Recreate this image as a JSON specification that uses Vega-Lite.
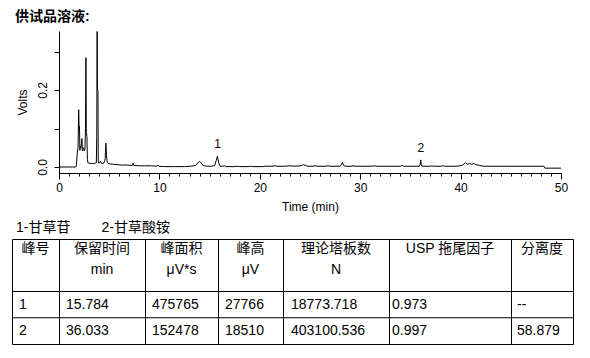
{
  "$schema": "https://vega.github.io/schema/vega-lite/v6.json",
  "background": "white",
  "padding": {"left": 11, "top": 9, "right": 5, "bottom": 5},
  "config": {
    "font": "Liberation Sans, Noto Sans CJK SC",
    "view": {"stroke": null},
    "text": {"font": "Liberation Sans, Noto Sans CJK SC", "color": "black"}
  },
  "title": {"text": "供试品溶液:", "anchor": "start", "fontSize": 14, "fontWeight": "bold", "offset": 6, "dx": 4, "color": "black", "font": "Liberation Sans, Noto Sans CJK SC"},
  "datasets": {
    "trace": [
      {"t":0,"v":0},{"t":1.68,"v":0},{"t":1.74,"v":0.006},{"t":1.8,"v":0.03},{"t":1.86,"v":0.045},{"t":1.9,"v":0.05},{"t":1.96,"v":0.149},{"t":2.0,"v":0.102},{"t":2.04,"v":0.106},{"t":2.08,"v":0.043},{"t":2.13,"v":0.054},{"t":2.18,"v":0.05},{"t":2.24,"v":0.06},{"t":2.28,"v":0.074},{"t":2.33,"v":0.042},{"t":2.39,"v":0.047},{"t":2.45,"v":0.05},{"t":2.51,"v":0.042},{"t":2.58,"v":0.045},{"t":2.64,"v":0.1},{"t":2.68,"v":0.284},{"t":2.72,"v":0.09},{"t":2.78,"v":0.08},{"t":2.83,"v":0.02},{"t":2.88,"v":0.011},{"t":3.0,"v":0.01},{"t":3.2,"v":0.009},{"t":3.4,"v":0.009},{"t":3.6,"v":0.01},{"t":3.72,"v":0.011},{"t":3.76,"v":0.08},{"t":3.8,"v":0.352},{"t":3.83,"v":0.2},{"t":3.88,"v":0.199},{"t":3.91,"v":0.015},{"t":3.96,"v":0.01},{"t":4.05,"v":0.011},{"t":4.12,"v":0.015},{"t":4.18,"v":0.011},{"t":4.3,"v":0.009},{"t":4.45,"v":0.01},{"t":4.55,"v":0.016},{"t":4.6,"v":0.022},{"t":4.67,"v":0.062},{"t":4.73,"v":0.03},{"t":4.8,"v":0.014},{"t":4.9,"v":0.009},{"t":5.1,"v":0.008},{"t":5.4,"v":0.007},{"t":5.8,"v":0.006},{"t":6.3,"v":0.005},{"t":6.8,"v":0.005},{"t":7.3,"v":0.004},{"t":7.38,"v":0.01},{"t":7.46,"v":0.004},{"t":8.0,"v":0.003},{"t":8.6,"v":0.003},{"t":9.2,"v":0.003},{"t":9.75,"v":0.002},{"t":9.85,"v":0.005},{"t":9.95,"v":0.002},{"t":10.5,"v":0.001},{"t":11.5,"v":0.001},{"t":12.5,"v":0.001},{"t":13.1,"v":0.002},{"t":13.6,"v":0.004},{"t":13.85,"v":0.011},{"t":14.0,"v":0.015},{"t":14.15,"v":0.011},{"t":14.35,"v":0.004},{"t":14.7,"v":0.002},{"t":15.2,"v":0.002},{"t":15.5,"v":0.004},{"t":15.65,"v":0.016},{"t":15.78,"v":0.0278},{"t":15.92,"v":0.01},{"t":16.05,"v":0.002},{"t":16.3,"v":0.002},{"t":16.5,"v":0.003},{"t":16.65,"v":0.001},{"t":17.5,"v":0.001},{"t":17.8,"v":0.002},{"t":18.0,"v":0.001},{"t":18.9,"v":0.001},{"t":19.1,"v":0.002},{"t":19.3,"v":0.001},{"t":20.3,"v":0.001},{"t":20.6,"v":0.002},{"t":21.2,"v":0.002},{"t":21.5,"v":0.003},{"t":21.7,"v":0.002},{"t":22.5,"v":0.002},{"t":23.0,"v":0.003},{"t":23.5,"v":0.002},{"t":24.0,"v":0.003},{"t":24.2,"v":0.004},{"t":24.3,"v":0.007},{"t":24.4,"v":0.004},{"t":24.55,"v":0.005},{"t":24.7,"v":0.002},{"t":25.3,"v":0.002},{"t":25.5,"v":0.003},{"t":25.7,"v":0.002},{"t":26.6,"v":0.002},{"t":26.8,"v":0.003},{"t":27.0,"v":0.002},{"t":28.0,"v":0.002},{"t":28.12,"v":0.006},{"t":28.22,"v":0.012},{"t":28.35,"v":0.004},{"t":28.5,"v":0.002},{"t":29.1,"v":0.002},{"t":29.3,"v":0.003},{"t":29.5,"v":0.002},{"t":31.2,"v":0.002},{"t":31.4,"v":0.003},{"t":31.6,"v":0.002},{"t":34.0,"v":0.002},{"t":34.15,"v":0.004},{"t":34.35,"v":0.002},{"t":35.9,"v":0.002},{"t":35.98,"v":0.008},{"t":36.03,"v":0.0185},{"t":36.08,"v":0.005},{"t":36.15,"v":0.002},{"t":37.0,"v":0.002},{"t":37.15,"v":0.003},{"t":37.3,"v":0.002},{"t":38.1,"v":0.002},{"t":38.25,"v":0.003},{"t":38.4,"v":0.002},{"t":39.5,"v":0.002},{"t":39.9,"v":0.003},{"t":40.2,"v":0.005},{"t":40.5,"v":0.011},{"t":40.7,"v":0.007},{"t":40.9,"v":0.009},{"t":41.1,"v":0.007},{"t":41.3,"v":0.009},{"t":41.5,"v":0.006},{"t":41.9,"v":0.004},{"t":42.3,"v":0.002},{"t":45.0,"v":0.002},{"t":48.3,"v":0.002},{"t":48.4,"v":-0.003},{"t":50.0,"v":-0.003}
    ],
    "peaks": [
      {"peak": "1", "t": 15.784, "h": 0.027766},
      {"peak": "2", "t": 36.033, "h": 0.01851}
    ],
    "table": [
      {"col": 1, "line": "a", "text": "峰号"},
      {"col": 1, "line": "r1", "text": "1"},
      {"col": 1, "line": "r2", "text": "2"},
      {"col": 2, "line": "a", "text": "保留时间"},
      {"col": 2, "line": "b", "text": "min"},
      {"col": 2, "line": "r1", "text": "15.784"},
      {"col": 2, "line": "r2", "text": "36.033"},
      {"col": 3, "line": "a", "text": "峰面积"},
      {"col": 3, "line": "b", "text": "μV*s"},
      {"col": 3, "line": "r1", "text": "475765"},
      {"col": 3, "line": "r2", "text": "152478"},
      {"col": 4, "line": "a", "text": "峰高"},
      {"col": 4, "line": "b", "text": "μV"},
      {"col": 4, "line": "r1", "text": "27766"},
      {"col": 4, "line": "r2", "text": "18510"},
      {"col": 5, "line": "a", "text": "理论塔板数"},
      {"col": 5, "line": "b", "text": "N"},
      {"col": 5, "line": "r1", "text": "18773.718"},
      {"col": 5, "line": "r2", "text": "403100.536"},
      {"col": 6, "line": "a", "text": "USP 拖尾因子"},
      {"col": 6, "line": "r1", "text": "0.973"},
      {"col": 6, "line": "r2", "text": "0.997"},
      {"col": 7, "line": "a", "text": "分离度"},
      {"col": 7, "line": "r1", "text": "--"},
      {"col": 7, "line": "r2", "text": "58.879"}
    ]
  },
  "spacing": 8,
  "vconcat": [
    {
      "spacing": 0,
      "hconcat": [
        {
          "width": 1, "height": 1,
          "data": {"values": []},
          "mark": {"type": "point", "opacity": 0},
          "encoding": {}
        },
        {
          "width": 502,
          "height": 142,
          "resolve": {"axis": {"x": "independent", "y": "independent"}},
          "layer": [
            {
              "data": {"name": "trace"},
              "mark": {"type": "line", "color": "black", "strokeWidth": 1},
              "encoding": {
                "x": {"field": "t", "type": "quantitative",
                  "scale": {"domain": [0, 50], "nice": false, "zero": false},
                  "axis": {"title": "Time (min)", "orient": "bottom", "values": [0, 10, 20, 30, 40, 50],
                    "tickSize": 6, "labelOverlap": false, "labelFlush": false, "labelBound": false,
                    "grid": false, "domainColor": "black", "tickColor": "black", "labelColor": "black", "titleColor": "black",
                    "labelFontSize": 12, "titleFontSize": 12, "titleFontWeight": "normal", "labelPadding": 3, "titlePadding": 8}},
                "y": {"field": "v", "type": "quantitative",
                  "scale": {"domain": [-0.0156, 0.3533], "nice": false, "zero": false},
                  "axis": {"title": "Volts", "orient": "left", "values": [0, 0.1, 0.2, 0.3],
                    "labelExpr": "datum.value === 0 ? '0.0' : (abs(datum.value - 0.2) < 0.000001 ? '0.2' : '')",
                    "labelAngle": 270, "tickSize": 5, "labelPadding": 5, "titlePadding": 7,
                    "labelOverlap": false, "labelFlush": false, "labelBound": false,
                    "grid": false, "domainColor": "black", "tickColor": "black", "labelColor": "black", "titleColor": "black",
                    "labelFontSize": 12, "titleFontSize": 12, "titleFontWeight": "normal"}}
              }
            },
            {
              "data": {"name": "peaks"},
              "mark": {"type": "text", "baseline": "bottom", "dy": -5, "fontSize": 12, "color": "black"},
              "encoding": {
                "x": {"field": "t", "type": "quantitative",
                  "axis": {"orient": "bottom", "title": null, "values": [0,1,2,3,4,5,6,7,8,9,10,11,12,13,14,15,16,17,18,19,20,21,22,23,24,25,26,27,28,29,30,31,32,33,34,35,36,37,38,39,40,41,42,43,44,45,46,47,48,49,50],
                    "labels": false, "domain": false, "grid": false, "tickSize": 3, "tickColor": "black"}},
                "y": {"field": "h", "type": "quantitative",
                  "axis": {"orient": "left", "title": "Volts", "titleOpacity": 0, "titlePadding": 33, "titleFontSize": 12,
                    "labels": false, "ticks": false, "domain": false, "grid": false}},
                "text": {"field": "peak"}
              }
            }
          ]
        }
      ]
    },
    {
      "title": {"text": "1-甘草苷\u00a0\u00a0\u00a0\u00a0\u00a0\u00a0\u00a0\u00a02-甘草酸铵", "anchor": "start", "fontSize": 14, "fontWeight": "normal", "offset": 4, "dx": 5, "color": "black", "font": "Liberation Sans, Noto Sans CJK SC"},
      "spacing": 0,
      "bounds": "flush",
      "data": {"name": "table"},
      "hconcat": [
        {
          "width": 47, "height": 105, "view": {"stroke": "black", "strokeWidth": 1},
          "transform": [{"filter": "datum.col === 1"}],
          "layer": [
            {"transform": [{"filter": "datum.line === 'r1' || datum.line === 'r2'"}], "mark": {"type": "rule", "color": "black", "strokeWidth": 1},
             "encoding": {"y": {"field": "line", "type": "nominal", "bandPosition": 0, "scale": {"type": "band", "domain": ["a","b","r1","r2"], "paddingInner": 0, "paddingOuter": 0}, "axis": null}}},
            {"transform": [{"filter": "datum.line === 'a'"}], "mark": {"type": "text", "fontSize": 14, "dy": -3},
             "encoding": {"y": {"field": "line", "type": "nominal", "bandPosition": 0.5, "axis": null}, "text": {"field": "text"}}},
            {"transform": [{"filter": "datum.line === 'r1' || datum.line === 'r2'"}], "mark": {"type": "text", "fontSize": 14, "align": "left", "dx": 7},
             "encoding": {"x": {"field": "col", "type": "nominal", "bandPosition": 0, "scale": {"type": "band", "paddingInner": 0, "paddingOuter": 0}, "axis": null},
               "y": {"field": "line", "type": "nominal", "bandPosition": 0.5, "axis": null}, "text": {"field": "text"}}}
          ]
        },
        {
          "width": 86, "height": 105, "view": {"stroke": "black", "strokeWidth": 1},
          "transform": [{"filter": "datum.col === 2"}],
          "layer": [
            {"transform": [{"filter": "datum.line === 'r1' || datum.line === 'r2'"}], "mark": {"type": "rule", "color": "black", "strokeWidth": 1},
             "encoding": {"y": {"field": "line", "type": "nominal", "bandPosition": 0, "scale": {"type": "band", "domain": ["a","b","r1","r2"], "paddingInner": 0, "paddingOuter": 0}, "axis": null}}},
            {"transform": [{"filter": "datum.line === 'a'"}], "mark": {"type": "text", "fontSize": 14, "dy": -3},
             "encoding": {"y": {"field": "line", "type": "nominal", "bandPosition": 0.5, "axis": null}, "text": {"field": "text"}}},
            {"transform": [{"filter": "datum.line === 'b'"}], "mark": {"type": "text", "fontSize": 14, "dy": -8},
             "encoding": {"y": {"field": "line", "type": "nominal", "bandPosition": 0.5, "axis": null}, "text": {"field": "text"}}},
            {"transform": [{"filter": "datum.line === 'r1' || datum.line === 'r2'"}], "mark": {"type": "text", "fontSize": 14, "align": "left", "dx": 7},
             "encoding": {"x": {"field": "col", "type": "nominal", "bandPosition": 0, "scale": {"type": "band", "paddingInner": 0, "paddingOuter": 0}, "axis": null},
               "y": {"field": "line", "type": "nominal", "bandPosition": 0.5, "axis": null}, "text": {"field": "text"}}}
          ]
        },
        {
          "width": 73, "height": 105, "view": {"stroke": "black", "strokeWidth": 1},
          "transform": [{"filter": "datum.col === 3"}],
          "layer": [
            {"transform": [{"filter": "datum.line === 'r1' || datum.line === 'r2'"}], "mark": {"type": "rule", "color": "black", "strokeWidth": 1},
             "encoding": {"y": {"field": "line", "type": "nominal", "bandPosition": 0, "scale": {"type": "band", "domain": ["a","b","r1","r2"], "paddingInner": 0, "paddingOuter": 0}, "axis": null}}},
            {"transform": [{"filter": "datum.line === 'a'"}], "mark": {"type": "text", "fontSize": 14, "dy": -3},
             "encoding": {"y": {"field": "line", "type": "nominal", "bandPosition": 0.5, "axis": null}, "text": {"field": "text"}}},
            {"transform": [{"filter": "datum.line === 'b'"}], "mark": {"type": "text", "fontSize": 14, "dy": -8},
             "encoding": {"y": {"field": "line", "type": "nominal", "bandPosition": 0.5, "axis": null}, "text": {"field": "text"}}},
            {"transform": [{"filter": "datum.line === 'r1' || datum.line === 'r2'"}], "mark": {"type": "text", "fontSize": 14, "align": "left", "dx": 7},
             "encoding": {"x": {"field": "col", "type": "nominal", "bandPosition": 0, "scale": {"type": "band", "paddingInner": 0, "paddingOuter": 0}, "axis": null},
               "y": {"field": "line", "type": "nominal", "bandPosition": 0.5, "axis": null}, "text": {"field": "text"}}}
          ]
        },
        {
          "width": 65, "height": 105, "view": {"stroke": "black", "strokeWidth": 1},
          "transform": [{"filter": "datum.col === 4"}],
          "layer": [
            {"transform": [{"filter": "datum.line === 'r1' || datum.line === 'r2'"}], "mark": {"type": "rule", "color": "black", "strokeWidth": 1},
             "encoding": {"y": {"field": "line", "type": "nominal", "bandPosition": 0, "scale": {"type": "band", "domain": ["a","b","r1","r2"], "paddingInner": 0, "paddingOuter": 0}, "axis": null}}},
            {"transform": [{"filter": "datum.line === 'a'"}], "mark": {"type": "text", "fontSize": 14, "dy": -3},
             "encoding": {"y": {"field": "line", "type": "nominal", "bandPosition": 0.5, "axis": null}, "text": {"field": "text"}}},
            {"transform": [{"filter": "datum.line === 'b'"}], "mark": {"type": "text", "fontSize": 14, "dy": -8},
             "encoding": {"y": {"field": "line", "type": "nominal", "bandPosition": 0.5, "axis": null}, "text": {"field": "text"}}},
            {"transform": [{"filter": "datum.line === 'r1' || datum.line === 'r2'"}], "mark": {"type": "text", "fontSize": 14, "align": "left", "dx": 7},
             "encoding": {"x": {"field": "col", "type": "nominal", "bandPosition": 0, "scale": {"type": "band", "paddingInner": 0, "paddingOuter": 0}, "axis": null},
               "y": {"field": "line", "type": "nominal", "bandPosition": 0.5, "axis": null}, "text": {"field": "text"}}}
          ]
        },
        {
          "width": 106, "height": 105, "view": {"stroke": "black", "strokeWidth": 1},
          "transform": [{"filter": "datum.col === 5"}],
          "layer": [
            {"transform": [{"filter": "datum.line === 'r1' || datum.line === 'r2'"}], "mark": {"type": "rule", "color": "black", "strokeWidth": 1},
             "encoding": {"y": {"field": "line", "type": "nominal", "bandPosition": 0, "scale": {"type": "band", "domain": ["a","b","r1","r2"], "paddingInner": 0, "paddingOuter": 0}, "axis": null}}},
            {"transform": [{"filter": "datum.line === 'a'"}], "mark": {"type": "text", "fontSize": 14, "dy": -3},
             "encoding": {"y": {"field": "line", "type": "nominal", "bandPosition": 0.5, "axis": null}, "text": {"field": "text"}}},
            {"transform": [{"filter": "datum.line === 'b'"}], "mark": {"type": "text", "fontSize": 14, "dy": -8},
             "encoding": {"y": {"field": "line", "type": "nominal", "bandPosition": 0.5, "axis": null}, "text": {"field": "text"}}},
            {"transform": [{"filter": "datum.line === 'r1' || datum.line === 'r2'"}], "mark": {"type": "text", "fontSize": 14, "align": "left", "dx": 8},
             "encoding": {"x": {"field": "col", "type": "nominal", "bandPosition": 0, "scale": {"type": "band", "paddingInner": 0, "paddingOuter": 0}, "axis": null},
               "y": {"field": "line", "type": "nominal", "bandPosition": 0.5, "axis": null}, "text": {"field": "text"}}}
          ]
        },
        {
          "width": 122, "height": 105, "view": {"stroke": "black", "strokeWidth": 1},
          "transform": [{"filter": "datum.col === 6"}],
          "layer": [
            {"transform": [{"filter": "datum.line === 'r1' || datum.line === 'r2'"}], "mark": {"type": "rule", "color": "black", "strokeWidth": 1},
             "encoding": {"y": {"field": "line", "type": "nominal", "bandPosition": 0, "scale": {"type": "band", "domain": ["a","b","r1","r2"], "paddingInner": 0, "paddingOuter": 0}, "axis": null}}},
            {"transform": [{"filter": "datum.line === 'a'"}], "mark": {"type": "text", "fontSize": 14, "dy": -3},
             "encoding": {"y": {"field": "line", "type": "nominal", "bandPosition": 0.5, "axis": null}, "text": {"field": "text"}}},
            {"transform": [{"filter": "datum.line === 'r1' || datum.line === 'r2'"}], "mark": {"type": "text", "fontSize": 14, "align": "left", "dx": 3},
             "encoding": {"x": {"field": "col", "type": "nominal", "bandPosition": 0, "scale": {"type": "band", "paddingInner": 0, "paddingOuter": 0}, "axis": null},
               "y": {"field": "line", "type": "nominal", "bandPosition": 0.5, "axis": null}, "text": {"field": "text"}}}
          ]
        },
        {
          "width": 62, "height": 105, "view": {"stroke": "black", "strokeWidth": 1},
          "transform": [{"filter": "datum.col === 7"}],
          "layer": [
            {"transform": [{"filter": "datum.line === 'r1' || datum.line === 'r2'"}], "mark": {"type": "rule", "color": "black", "strokeWidth": 1},
             "encoding": {"y": {"field": "line", "type": "nominal", "bandPosition": 0, "scale": {"type": "band", "domain": ["a","b","r1","r2"], "paddingInner": 0, "paddingOuter": 0}, "axis": null}}},
            {"transform": [{"filter": "datum.line === 'a'"}], "mark": {"type": "text", "fontSize": 14, "dy": -3},
             "encoding": {"y": {"field": "line", "type": "nominal", "bandPosition": 0.5, "axis": null}, "text": {"field": "text"}}},
            {"transform": [{"filter": "datum.line === 'r1' || datum.line === 'r2'"}], "mark": {"type": "text", "fontSize": 14, "align": "left", "dx": 6},
             "encoding": {"x": {"field": "col", "type": "nominal", "bandPosition": 0, "scale": {"type": "band", "paddingInner": 0, "paddingOuter": 0}, "axis": null},
               "y": {"field": "line", "type": "nominal", "bandPosition": 0.5, "axis": null}, "text": {"field": "text"}}}
          ]
        }
      ]
    }
  ]
}
